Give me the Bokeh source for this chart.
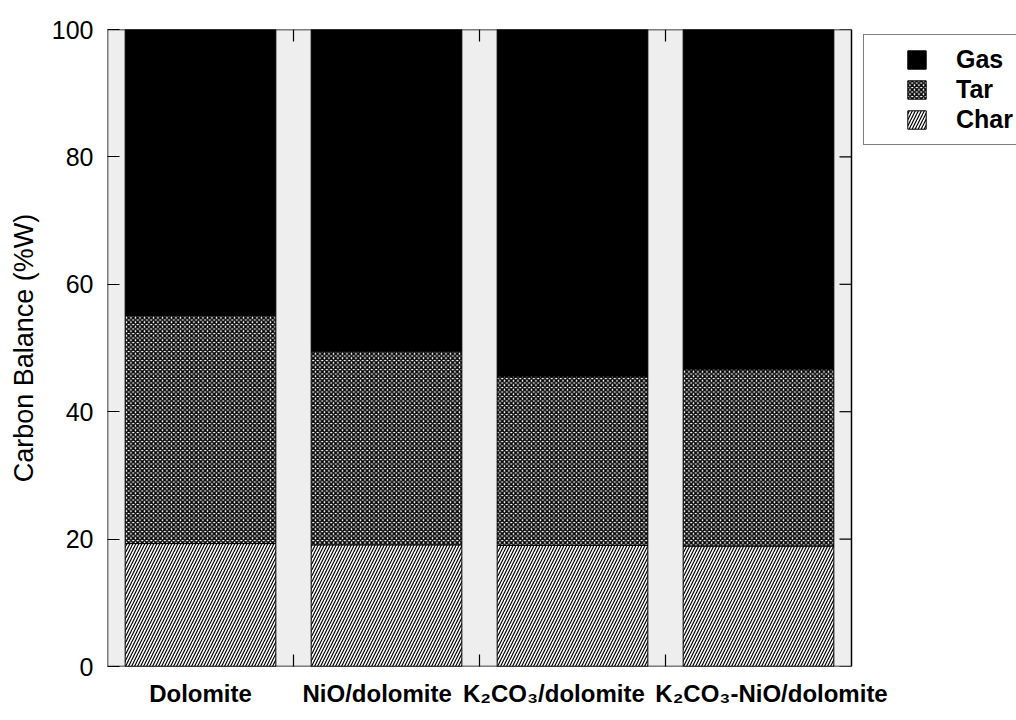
import math

from bokeh.plotting import figure
from bokeh.models import ColumnDataSource, FixedTicker, Legend, Range1d
from bokeh.embed import file_html
from bokeh.resources import INLINE

# Carbon balance of the products for each catalyst (%W)
categories = ["Dolomite", "NiO/dolomite", "K₂CO₃/dolomite", "K₂CO₃-NiO/dolomite"]
char = [19.3, 19.1, 19.0, 18.9]
tar = [35.8, 30.4, 26.6, 27.8]
gas = [44.9, 50.5, 54.4, 53.3]
y_ticks = [0, 20, 40, 60, 80, 100]

# small sideways nudges so the long category names do not run into each other
label_nudge = [0.0, -0.05, -0.10, 0.07]

FONT = "Liberation Sans"

# the boxed chart area takes BOX_PX of the FRAME_PX-wide frame; the rest
# on the right holds the legend
FRAME_PX = 909
BOX_PX = 744

n = len(categories)
y_top = y_ticks[-1]
centers = [i + 0.5 for i in range(n)]
boundaries = list(range(1, n))
label_pos = [c + d for c, d in zip(centers, label_nudge)]

source = ColumnDataSource(dict(x=centers, char=char, tar=tar, gas=gas))

p = figure(width=1016, height=720, output_backend="svg", toolbar_location=None,
           x_range=Range1d(0, n * FRAME_PX / BOX_PX), y_range=Range1d(0, y_top),
           min_border_left=107, min_border_right=0,
           min_border_top=29, min_border_bottom=54)

p.background_fill_color = "white"
p.border_fill_color = "white"
p.outline_line_color = None
p.grid.visible = False

# grey chart area behind the bars
p.quad(left=[0], right=[n], bottom=[0], top=[y_top],
       fill_color="#eeeeee", line_color=None)

bars = p.vbar_stack(["char", "tar", "gas"], x="x", width=0.81, source=source,
                    fill_color=["white", "white", "black"],
                    line_color="black", line_width=1,
                    hatch_pattern=["/", "x", " "], hatch_color="black",
                    hatch_scale=[6, 4.5, 6], hatch_weight=[1.2, 1.6, 1])

# frame around the chart area
p.quad(left=[0], right=[n], bottom=[0], top=[y_top],
       fill_color=None, line_color="black", line_width=1.5)

# inward ticks on the right and top edges
p.ray(x=[n] * len(y_ticks), y=y_ticks, length=12, length_units="screen",
      angle=math.pi, line_color="black", line_width=1.2)
p.ray(x=boundaries, y=[y_top] * len(boundaries), length=12, length_units="screen",
      angle=-math.pi / 2, line_color="black", line_width=1.2)

# bottom axis: names under the bars, inward ticks between the bars
xa = p.xaxis[0]
xa.ticker = FixedTicker(ticks=label_pos, minor_ticks=boundaries)
xa.major_label_overrides = {x: lab for x, lab in zip(label_pos, categories)}
xa.major_tick_in = 0
xa.major_tick_out = 0
xa.minor_tick_in = 12
xa.minor_tick_out = 0
xa.minor_tick_line_width = 1.2
xa.axis_line_color = None
xa.major_label_standoff = 13
xa.major_label_text_font = FONT
xa.major_label_text_font_style = "bold"
xa.major_label_text_font_size = "24px"
xa.major_label_text_color = "black"

# left axis
ya = p.yaxis[0]
ya.ticker = FixedTicker(ticks=y_ticks)
ya.minor_tick_line_color = None
ya.major_tick_in = 12
ya.major_tick_out = 0
ya.major_tick_line_width = 1.2
ya.axis_line_color = None
ya.major_label_standoff = 14
ya.major_label_text_font = FONT
ya.major_label_text_font_size = "25px"
ya.major_label_text_color = "black"
ya.axis_label = "Carbon Balance (%W)"
ya.axis_label_text_font = FONT
ya.axis_label_text_font_size = "27px"
ya.axis_label_text_font_style = "normal"
ya.axis_label_text_color = "black"
ya.axis_label_standoff = 10

legend = Legend(items=[("Gas", [bars[2]]), ("Tar", [bars[1]]), ("Char", [bars[0]])],
                location=(756, 521), margin=0, padding=10, spacing=1,
                glyph_width=23, glyph_height=23, label_standoff=28,
                title=" ", title_location="left", title_text_font_size="10px",
                title_standoff=20,
                label_text_font=FONT, label_text_font_style="bold",
                label_text_font_size="25px", label_text_color="black",
                border_line_color="black", border_line_width=1.5,
                background_fill_color="white", background_fill_alpha=1)
p.add_layout(legend)

open("out.html", "w").write(file_html(p, INLINE))
